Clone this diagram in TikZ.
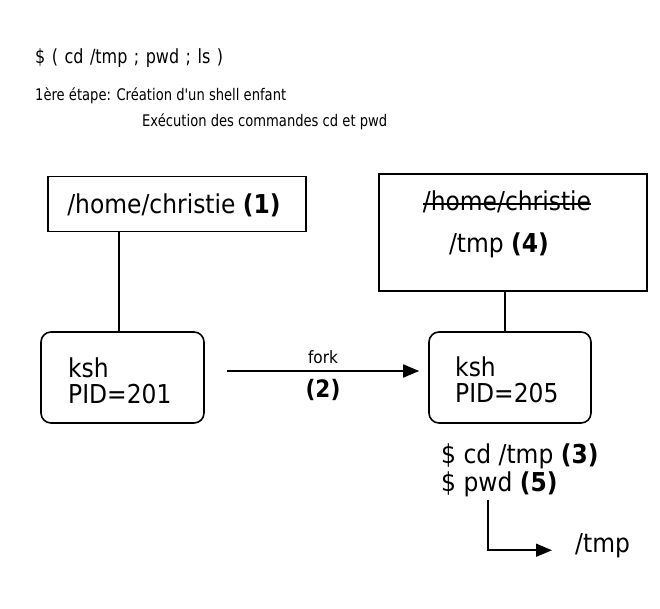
\documentclass[tikz,border=0pt]{standalone}
\usepackage{fontspec}
\setmainfont{DejaVu Sans}
\newfontfamily\captionfont{DejaVu Sans}[FakeStretch=0.82]
\newfontfamily\boxfont{DejaVu Sans}[FakeStretch=0.9]
\usetikzlibrary{arrows.meta}

\tikzset{
  caption/.style={anchor=base west, inner sep=0pt, font=\captionfont\fontsize{16}{18}\selectfont},
  dirbox/.style={draw, line width=1.6pt, inner sep=0pt},
  shellbox/.style={draw, line width=1.6pt, rounded corners=10pt, minimum height=91pt},
  bigtext/.style={inner sep=0pt, font=\boxfont\fontsize{26}{28}\selectfont},
  link/.style={line width=1.6pt},
  flow/.style={line width=1.6pt, -{Triangle[length=16pt,width=13pt]}},
}

\begin{document}
\begin{tikzpicture}[x=1pt, y=-1pt]
  \useasboundingbox (0,0) rectangle (660,609);

  % command line and explanation
  \node[caption, font=\captionfont\fontsize{19.5}{22}\selectfont] (cmdline) at (35,64)
    {\spaceskip=6.5pt\$ ( cd /tmp ; pwd ; ls )};
  \node[caption] (step1) at (35,101) {1ère étape: Création d'un shell enfant};
  \node[caption] (step2) at (142,127) {Exécution des commandes cd et pwd};

  % parent shell and its working directory
  \node[dirbox, minimum width=258pt, minimum height=55pt] (homedir) at (177,204) {};
  \node[bigtext, anchor=base] (homelbl) at (174,214) {/home/christie \textbf{(1)}};
  \node[shellbox, minimum width=163pt] (parent) at (122.5,377.5) {};
  \node[bigtext, anchor=base west] (parentname) at (68,377) {ksh};
  \node[bigtext, anchor=base west] (parentpid) at (68,403) {PID=201};

  % child shell and its working directory (old one struck out)
  \node[dirbox, minimum width=268pt, minimum height=117pt] (childdir) at (513,232.5) {};
  \node[bigtext, anchor=base] (olddir) at (507,211) {/home/christie};
  \draw[line width=1.2pt] ([yshift=7pt]olddir.base west) -- ([yshift=7pt]olddir.base east);
  \node[bigtext, anchor=base] (newdir) at (499,252) {/tmp \textbf{(4)}};
  \node[shellbox, minimum width=162pt] (child) at (510,377.5) {};
  \node[bigtext, anchor=base west] (childname) at (455,376) {ksh};
  \node[bigtext, anchor=base west] (childpid) at (455,402) {PID=205};

  % links between shells and directories
  \draw[link] ([xshift=-3.5pt]parent.north |- homedir.south) -- ([xshift=-3.5pt]parent.north);
  \draw[link] ([xshift=-5pt]child.north |- childdir.south) -- ([xshift=-5pt]child.north);

  % fork
  \draw[flow] ([xshift=22pt,yshift=6.5pt]parent.east) -- ([xshift=-9pt,yshift=6.5pt]child.west);
  \node[inner sep=0pt, anchor=base, font=\boxfont\fontsize{17}{18}\selectfont] (forklbl) at (323,363) {fork};
  \node[inner sep=0pt, anchor=base, font=\boxfont\fontsize{24}{26}\selectfont\bfseries] (forknum) at (323,397) {(2)};

  % commands run in the child shell
  \node[bigtext, anchor=base west] (cdcmd) at (441,463) {\$ cd /tmp \textbf{(3)}};
  \node[bigtext, anchor=base west] (pwdcmd) at (441,491) {\$ pwd \textbf{(5)}};
  \node[bigtext, anchor=base west] (out) at (575,552) {/tmp};
  \draw[flow] ([xshift=47pt,yshift=-3pt]pwdcmd.south west) |- ([xshift=-23pt,yshift=-5pt]out.west);
\end{tikzpicture}
\end{document}
